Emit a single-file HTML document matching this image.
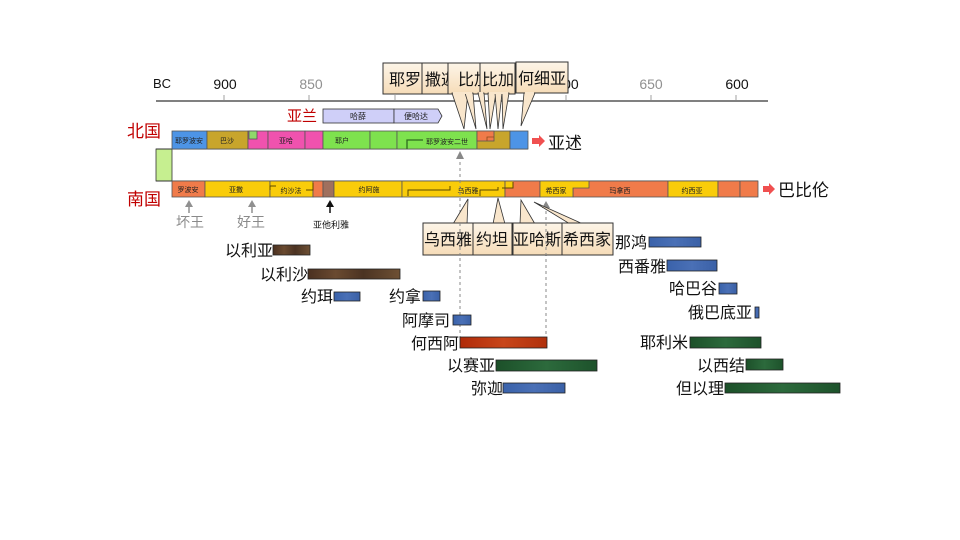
<!DOCTYPE html>
<html><head><meta charset="utf-8"><style>
html,body{margin:0;padding:0;background:#fff;}
svg{display:block;}
text{font-family:"Liberation Sans","Noto Sans CJK SC",sans-serif;}
</style></head><body>
<svg width="960" height="540" viewBox="0 0 960 540" xmlns="http://www.w3.org/2000/svg">
<defs>
<linearGradient id="cg" x1="0" y1="0" x2="0" y2="1">
<stop offset="0" stop-color="#fdf5e8"/><stop offset="1" stop-color="#f6dcb8"/>
</linearGradient>
<linearGradient id="brn" x1="0" y1="0" x2="1" y2="0">
<stop offset="0" stop-color="#4a3020"/><stop offset="0.3" stop-color="#6a4a30"/><stop offset="0.6" stop-color="#4b3322"/><stop offset="1" stop-color="#6e5034"/>
</linearGradient>
<linearGradient id="blu" x1="0" y1="0" x2="1" y2="0">
<stop offset="0" stop-color="#3a62aa"/><stop offset="0.5" stop-color="#4a70b6"/><stop offset="1" stop-color="#3a60a6"/>
</linearGradient>
<linearGradient id="red" x1="0" y1="0" x2="1" y2="0">
<stop offset="0" stop-color="#b02a08"/><stop offset="0.5" stop-color="#c8461a"/><stop offset="1" stop-color="#b0300c"/>
</linearGradient>
<linearGradient id="grn" x1="0" y1="0" x2="1" y2="0">
<stop offset="0" stop-color="#1c5029"/><stop offset="0.5" stop-color="#2c6a3c"/><stop offset="1" stop-color="#1d522b"/>
</linearGradient>
</defs>
<rect width="960" height="540" fill="#fff"/>

<!-- axis -->
<line x1="156" y1="101" x2="768" y2="101" stroke="#808080" stroke-width="2"/>
<g stroke="#a0a0a0" stroke-width="1">
<line x1="224" y1="95" x2="224" y2="100"/><line x1="309" y1="95" x2="309" y2="100"/>
<line x1="395" y1="95" x2="395" y2="100"/><line x1="480" y1="95" x2="480" y2="100"/>
<line x1="566" y1="95" x2="566" y2="100"/><line x1="651" y1="95" x2="651" y2="100"/>
<line x1="736" y1="95" x2="736" y2="100"/>
</g>
<g font-size="14">
<text x="153" y="88" fill="#111" font-size="13">BC</text>
<text x="225" y="89" text-anchor="middle" fill="#111">900</text>
<text x="311" y="89" text-anchor="middle" fill="#909090">850</text>
<text x="567" y="89" text-anchor="middle" fill="#111">700</text>
<text x="651" y="89" text-anchor="middle" fill="#909090">650</text>
<text x="737" y="89" text-anchor="middle" fill="#111">600</text>
</g>

<!-- Aram -->
<text x="287" y="121" fill="#c00000" font-size="15">亚兰</text>
<rect x="323" y="109" width="71" height="14" fill="#cfcff8" stroke="#333" stroke-width="0.8"/>
<polygon points="394,109 438,109 442,116 438,123 394,123" fill="#cfcff8" stroke="#333" stroke-width="0.8"/>
<text x="358" y="119" font-size="8" text-anchor="middle" fill="#222">哈薛</text>
<text x="416" y="119" font-size="8" text-anchor="middle" fill="#222">便哈达</text>

<!-- kingdom labels -->
<text x="127" y="137" fill="#c00000" font-size="17">北国</text>
<text x="127" y="205" fill="#c00000" font-size="17">南国</text>

<!-- left light green box -->
<rect x="156" y="149" width="16" height="32" fill="#c6ef90" stroke="#333" stroke-width="0.8"/>
<line x1="156" y1="149" x2="528" y2="149" stroke="#333" stroke-width="1"/>
<line x1="156" y1="181" x2="758" y2="181" stroke="#333" stroke-width="1"/>

<!-- North bar -->
<g stroke="#555" stroke-width="0.8">
<rect x="172" y="131" width="35" height="18" fill="#4d94e6"/>
<rect x="207" y="131" width="41" height="18" fill="#c8a52c"/>
<rect x="248" y="131" width="20" height="18" fill="#f052ae"/>
<rect x="268" y="131" width="37" height="18" fill="#f052ae"/>
<rect x="305" y="131" width="18" height="18" fill="#f052ae"/>
<rect x="249" y="131" width="8" height="8" fill="#8fd86a"/>
<rect x="323" y="131" width="47" height="18" fill="#7ee24e"/>
<rect x="370" y="131" width="27" height="18" fill="#7ee24e"/>
<rect x="397" y="131" width="80" height="18" fill="#7ee24e"/>
<rect x="477" y="131" width="33" height="18" fill="#c8a52c"/>
<rect x="477" y="131" width="17" height="10" fill="#f07b4a"/>
<rect x="510" y="131" width="18" height="18" fill="#4d94e6"/>
</g>
<polyline points="407,149 407,140 423,140" fill="none" stroke="#2d6a1f" stroke-width="1.3"/>
<polyline points="487,141 487,137 494,137" fill="none" stroke="#8a4a1a" stroke-width="0.8"/>
<g font-size="7" fill="#222" text-anchor="middle">
<text x="189" y="143">耶罗波安</text>
<text x="227" y="143">巴沙</text>
<text x="286" y="143">亚哈</text>
<text x="342" y="143">耶户</text>
<text x="447" y="144">耶罗波安二世</text>
</g>
<polygon points="532,138 539,138 539,135 545,141 539,147 539,144 532,144" fill="#f05050"/>
<text x="548" y="149" font-size="17" fill="#111">亚述</text>

<!-- South bar -->
<g stroke="#555" stroke-width="0.8">
<rect x="172" y="181" width="33" height="16" fill="#f07b4a"/>
<rect x="205" y="181" width="65" height="16" fill="#f9cc0a"/>
<rect x="270" y="181" width="43" height="16" fill="#f9cc0a"/>
<rect x="313" y="181" width="10" height="16" fill="#f07b4a"/>
<rect x="323" y="181" width="11" height="16" fill="#a0705e"/>
<rect x="334" y="181" width="68" height="16" fill="#f9cc0a"/>
<rect x="402" y="181" width="103" height="16" fill="#f9cc0a"/>
<rect x="505" y="181" width="35" height="16" fill="#f07b4a"/>
<rect x="573" y="181" width="95" height="16" fill="#f07b4a"/>
<polygon points="540,181 589,181 589,188 573,188 573,197 540,197" fill="#f9cc0a"/>
<rect x="668" y="181" width="50" height="16" fill="#f9cc0a"/>
<rect x="718" y="181" width="22" height="16" fill="#f07b4a"/>
<rect x="740" y="181" width="18" height="16" fill="#f07b4a"/>
</g>
<polygon points="505.5,181.5 513,181.5 513,188 505.5,188" fill="#f9cc0a"/>
<g fill="none" stroke="#5a4800" stroke-width="1">
<polyline points="270,190 270,186 276,186"/>
<polyline points="306,190 313,190 313,183"/>
<polyline points="408,196 408,190 450,190 450,186"/>
<polyline points="480,196 480,190 498,190 498,187"/>
<polyline points="502,188 513,188 513,182"/>
</g>
<g font-size="7" fill="#222" text-anchor="middle">
<text x="188" y="192">罗波安</text>
<text x="236" y="192">亚撒</text>
<text x="291" y="193">约沙法</text>
<text x="369" y="192">约阿施</text>
<text x="468" y="193">乌西雅</text>
<text x="556" y="193">希西家</text>
<text x="620" y="193">玛拿西</text>
<text x="692" y="193">约西亚</text>
</g>
<polygon points="763,186 769,186 769,183 775,189 769,195 769,192 763,192" fill="#f05050"/>
<text x="778" y="196" font-size="17" fill="#111">巴比伦</text>

<!-- markers under south bar -->
<g fill="#909090" stroke="#909090">
<polygon points="189,200 185,207 193,207" stroke="none"/><line x1="189" y1="206" x2="189" y2="213" stroke-width="1.5"/>
<polygon points="252,200 248,207 256,207" stroke="none"/><line x1="252" y1="206" x2="252" y2="213" stroke-width="1.5"/>
</g>
<polygon points="330,200 326,207 334,207" fill="#111"/><line x1="330" y1="206" x2="330" y2="213" stroke="#111" stroke-width="1.5"/>
<text x="190" y="227" font-size="14" text-anchor="middle" fill="#8a8a8a">坏王</text>
<text x="251" y="227" font-size="14" text-anchor="middle" fill="#8a8a8a">好王</text>
<text x="331" y="228" font-size="9" text-anchor="middle" fill="#111">亚他利雅</text>

<!-- dashed lines -->
<line x1="460" y1="156" x2="460" y2="338" stroke="#888" stroke-width="1" stroke-dasharray="3,3"/>
<polygon points="460,151 456,159 464,159" fill="#888"/>
<line x1="546" y1="205" x2="546" y2="338" stroke="#888" stroke-width="1" stroke-dasharray="3,3"/>
<polygon points="546,201 542,208 550,208" fill="#888"/>

<!-- top callouts -->
<g stroke="#333" stroke-width="1" fill="url(#cg)">
<rect x="383" y="63" width="39" height="31"/>
<rect x="422" y="63" width="32" height="31"/>
</g>
<text x="389" y="85" font-size="16" fill="#111">耶罗</text>
<text x="425" y="85" font-size="16" fill="#111">撒迦</text>
<g stroke="#333" stroke-width="1" fill="url(#cg)">
<rect x="448" y="63" width="32" height="31"/>
</g>
<text x="458" y="85" font-size="16" fill="#111">比加辖</text>
<g stroke="#333" stroke-width="1" fill="url(#cg)">
<rect x="480" y="63" width="35" height="31"/>
</g>
<text x="482" y="85" font-size="16" fill="#111">比加</text>
<g stroke="#333" stroke-width="1" fill="url(#cg)">
<rect x="516" y="62" width="52" height="31"/>
</g>
<text x="518" y="84" font-size="16" fill="#111">何细亚</text>
<!-- top tails -->
<g stroke="#333" stroke-width="0.8" fill="#f9e6cc">
<polygon points="452,93 468,93 464,129"/>
<polygon points="465,93 473,93 476,129"/>
<polygon points="478,93 484,93 487,129"/>
<polygon points="488,93 496,93 490,129"/>
<polygon points="495,93 502,93 498,129"/>
<polygon points="502,93 509,93 503,129"/>
<polygon points="524,93 535,93 521,126"/>
</g>
<g stroke="#f9e6cc" stroke-width="2">
<line x1="453" y1="93" x2="467" y2="93"/><line x1="466" y1="93" x2="472" y2="93"/>
<line x1="479" y1="93" x2="483" y2="93"/><line x1="489" y1="93" x2="508" y2="93"/>
<line x1="525" y1="93" x2="534" y2="93"/>
</g>

<!-- bottom callouts -->
<g stroke="#333" stroke-width="0.8" fill="#f9e6cc">
<polygon points="453,224 467,224 468,199"/>
<polygon points="493,224 505,224 498,198"/>
<polygon points="520,224 535,224 521,200"/>
<polygon points="570,224 583,224 534,202"/>
</g>
<g stroke="#333" stroke-width="1" fill="url(#cg)">
<rect x="423" y="223" width="50" height="32"/>
<rect x="473" y="223" width="39" height="32"/>
<rect x="513" y="223" width="49" height="32"/>
<rect x="562" y="223" width="51" height="32"/>
</g>
<g font-size="16" fill="#111" text-anchor="middle">
<text x="448" y="245">乌西雅</text>
<text x="492" y="245">约坦</text>
<text x="537" y="245">亚哈斯</text>
<text x="587" y="245">希西家</text>
</g>
<line x1="460" y1="223" x2="460" y2="255" stroke="#888" stroke-width="1" stroke-dasharray="3,3"/>
<line x1="546" y1="223" x2="546" y2="255" stroke="#888" stroke-width="1" stroke-dasharray="3,3"/>

<!-- prophets -->
<g stroke="#222" stroke-width="0.8">
<rect x="273" y="245" width="37" height="10" fill="url(#brn)"/>
<rect x="308" y="269" width="92" height="10" fill="url(#brn)"/>
<rect x="334" y="292" width="26" height="9" fill="url(#blu)"/>
<rect x="423" y="291" width="17" height="10" fill="url(#blu)"/>
<rect x="453" y="315" width="18" height="10" fill="url(#blu)"/>
<rect x="460" y="337" width="87" height="11" fill="url(#red)"/>
<rect x="496" y="360" width="101" height="11" fill="url(#grn)"/>
<rect x="503" y="383" width="62" height="10" fill="url(#blu)"/>
<rect x="649" y="237" width="52" height="10" fill="url(#blu)"/>
<rect x="667" y="260" width="50" height="11" fill="url(#blu)"/>
<rect x="719" y="283" width="18" height="11" fill="url(#blu)"/>
<rect x="755" y="307" width="4" height="11" fill="url(#blu)"/>
<rect x="690" y="337" width="71" height="11" fill="url(#grn)"/>
<rect x="746" y="359" width="37" height="11" fill="url(#grn)"/>
<rect x="725" y="383" width="115" height="10" fill="url(#grn)"/>
</g>
<g font-size="16" fill="#111" text-anchor="end">
<text x="273" y="256">以利亚</text>
<text x="308" y="280">以利沙</text>
<text x="333" y="302">约珥</text>
<text x="421" y="302">约拿</text>
<text x="450" y="326">阿摩司</text>
<text x="459" y="349">何西阿</text>
<text x="495" y="371">以赛亚</text>
<text x="503" y="394">弥迦</text>
<text x="647" y="248">那鸿</text>
<text x="666" y="272">西番雅</text>
<text x="717" y="294">哈巴谷</text>
<text x="752" y="318">俄巴底亚</text>
<text x="688" y="348">耶利米</text>
<text x="745" y="371">以西结</text>
<text x="724" y="394">但以理</text>
</g>
</svg>
</body></html>
